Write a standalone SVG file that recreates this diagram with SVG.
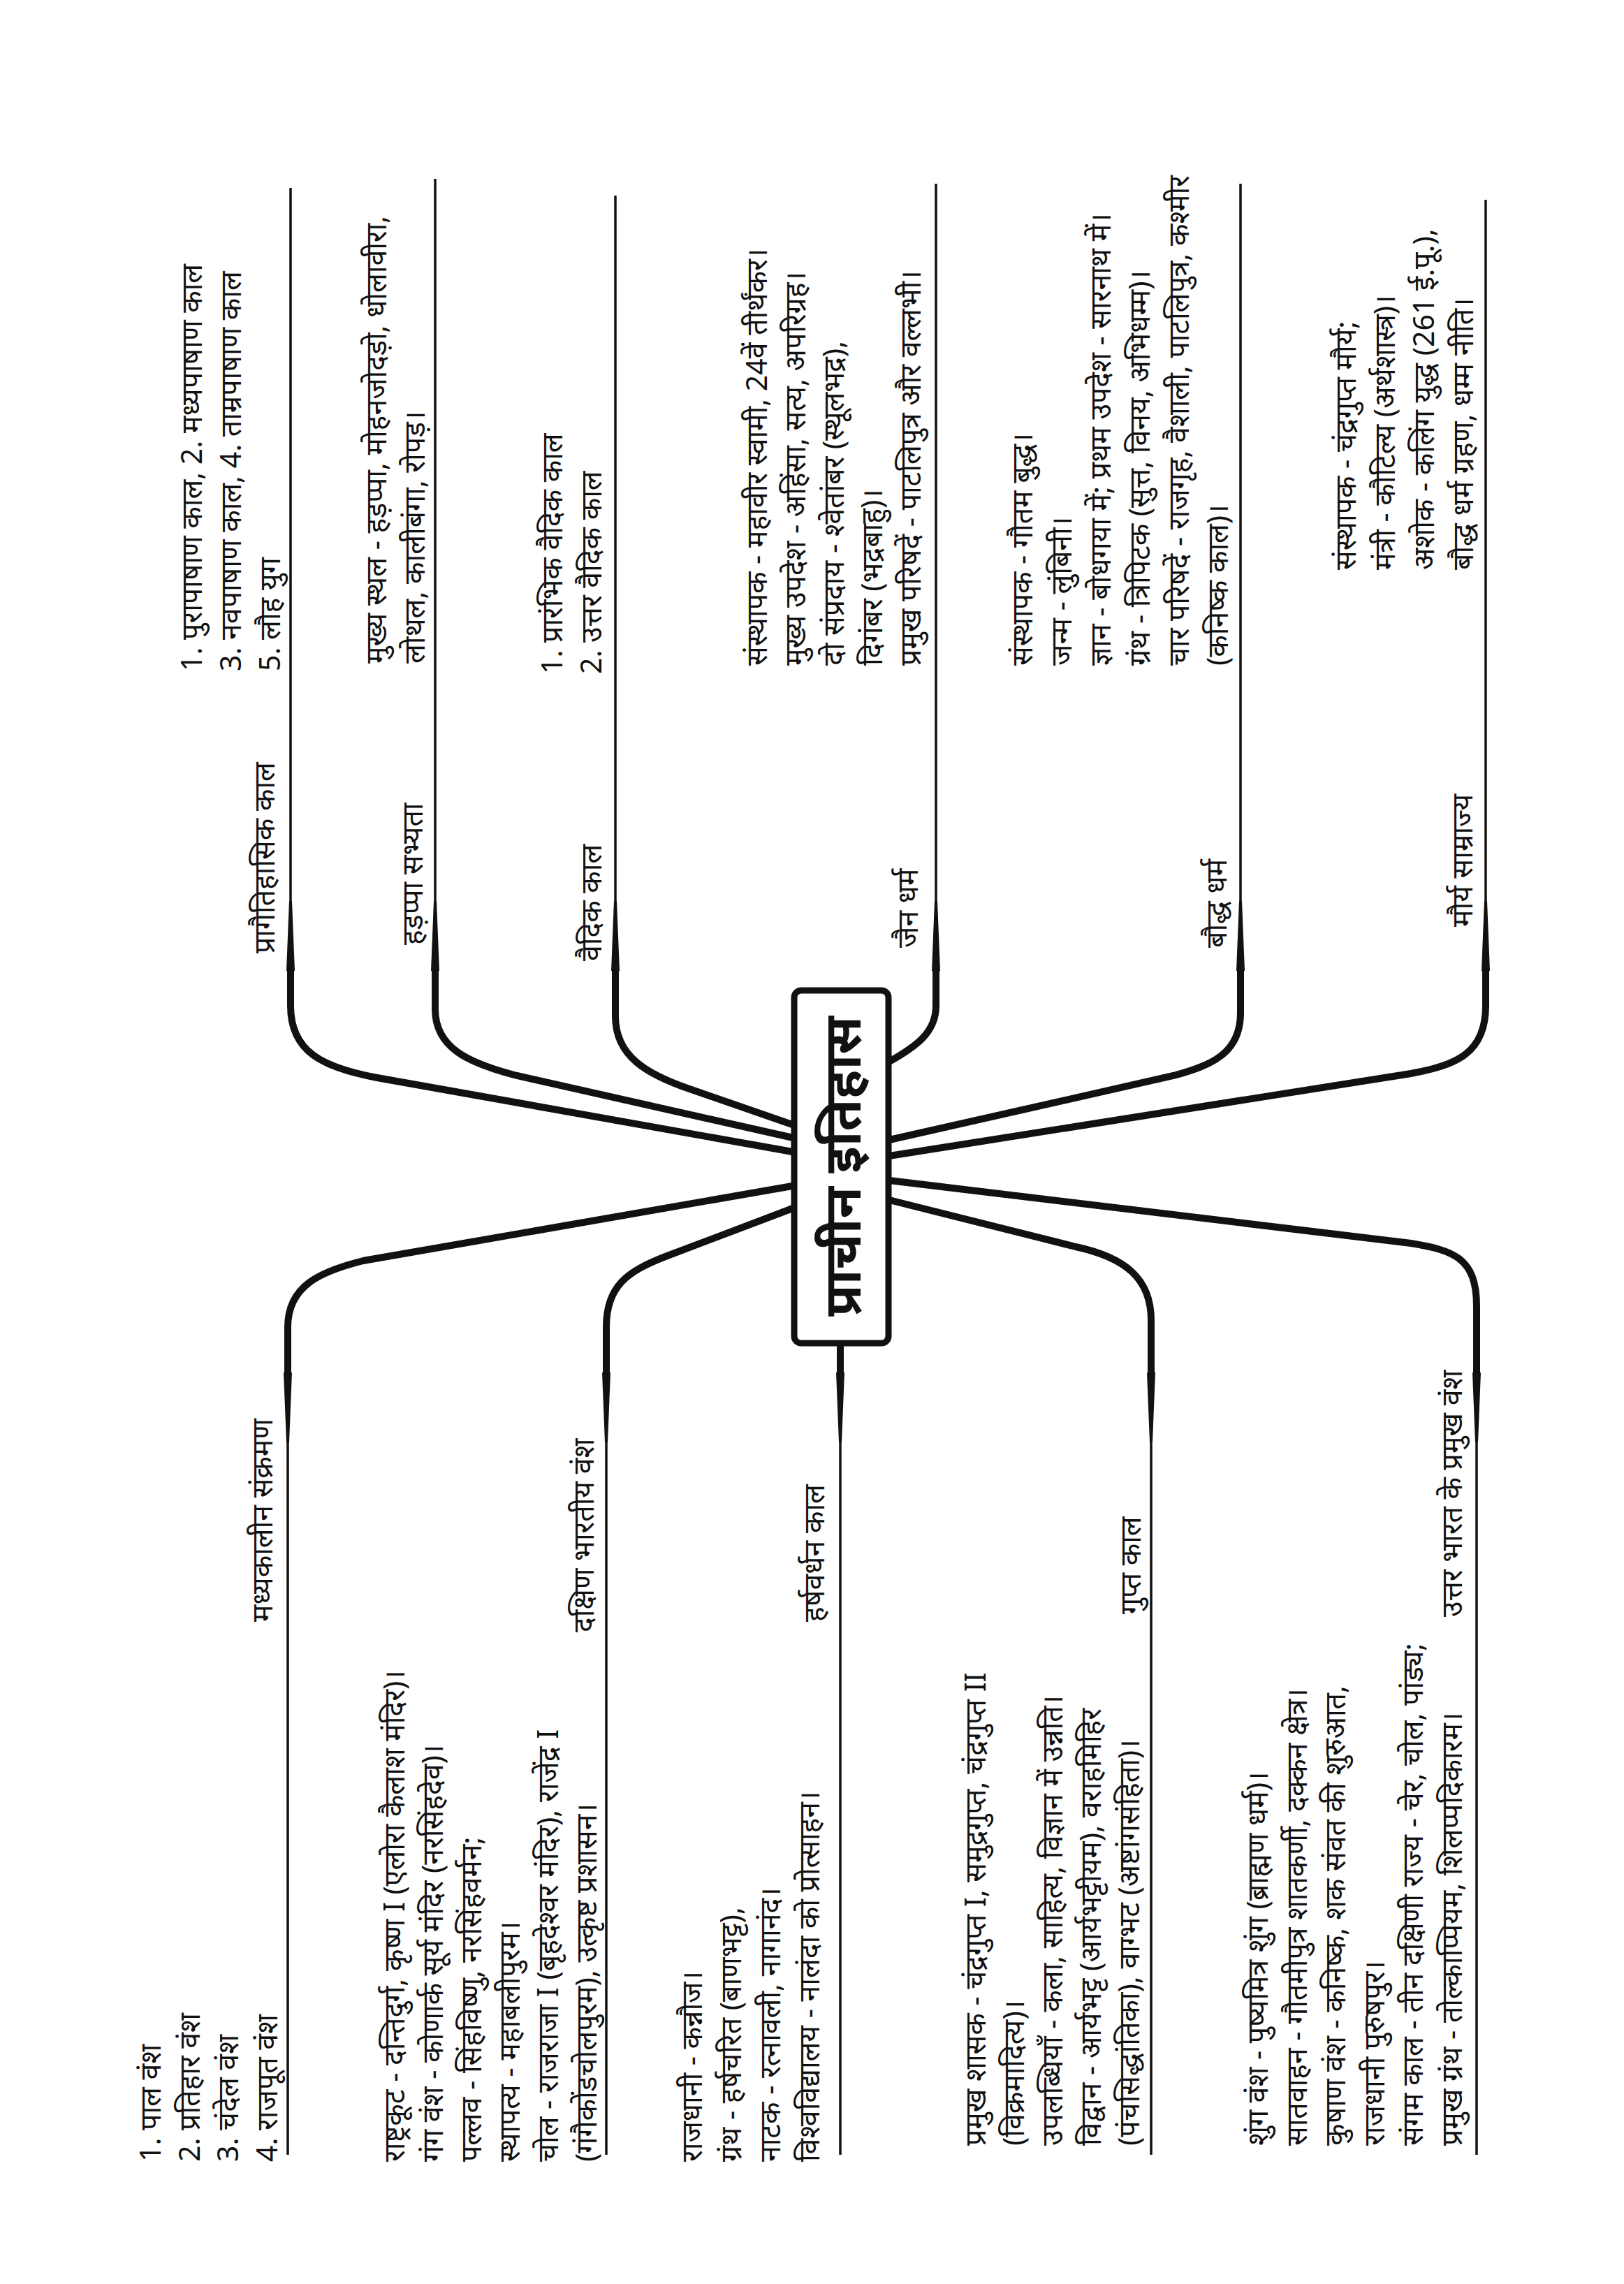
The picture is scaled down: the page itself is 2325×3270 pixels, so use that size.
<svg xmlns="http://www.w3.org/2000/svg" width="2325" height="3270" viewBox="0 0 2325 3270">
<style>
text{font-family:"Noto Sans","Noto Sans Devanagari","Lohit Devanagari",sans-serif;font-size:41px;fill:#111}
.c{font-size:74px;font-weight:bold}
.thin{fill:none;stroke:#111;stroke-width:3.5}
.thick{fill:none;stroke:#111;stroke-width:10;stroke-linecap:round}
.tp{fill:#111}
</style>
<rect width="2325" height="3270" fill="#fff"/>
<g id="connectors">
<path class="thin" d="M416,269V1380M623,256V1380M881,280V1380M1340,263V1380M1776,263V1380M2127,286V1380"/>
<path class="thin" d="M412,1975V3085M868,1975V3085M1203,1925V3085M1648,1975V3085M2114,1975V3085"/>
<path class="tp" d="M414,1290h4l4,100h-12zM621,1290h4l4,100h-12zM879,1290h4l4,100h-12zM1338,1290h4l4,100h-12zM1774,1290h4l4,100h-12zM2125,1290h4l4,100h-12z"/>
<path class="tp" d="M410,2065h4l4,-100h-12zM866,2065h4l4,-100h-12zM1201,2065h4l4,-100h-12zM1646,2065h4l4,-100h-12zM2112,2065h4l4,-100h-12z"/>
<path class="thick" d="M416,1385L416,1440C416,1505 460,1528 540,1543L1140,1650"/>
<path class="thick" d="M623,1385L623,1445C623,1500 670,1522 740,1540L1140,1630"/>
<path class="thick" d="M881,1385L881,1455C881,1512 925,1538 990,1560L1140,1612"/>
<path class="thick" d="M1340,1385L1340,1440C1340,1478 1312,1498 1273,1520"/>
<path class="thick" d="M1776,1385L1776,1450C1776,1508 1735,1525 1680,1540L1273,1632"/>
<path class="thick" d="M2127,1385L2127,1440C2127,1508 2085,1525 2020,1537L1273,1655"/>
<path class="thick" d="M412,1970L412,1900C412,1840 460,1820 520,1805L1140,1697"/>
<path class="thick" d="M868,1970L868,1900C868,1840 900,1820 950,1800L1140,1728"/>
<path class="thick" d="M1203,1925L1203,1970"/>
<path class="thick" d="M1648,1970L1648,1890C1648,1830 1610,1800 1540,1785L1273,1718"/>
<path class="thick" d="M2114,1970L2114,1870C2114,1800 2080,1790 2020,1780L1273,1690"/>
</g>
<g id="root">
<rect x="1137" y="1418" width="135" height="505" rx="10" fill="#fff" stroke="#111" stroke-width="9"/>
<text class="c" text-anchor="middle" transform="translate(1232,1670) rotate(-90)">प्राचीन इतिहास</text>
</g>
<g id="n-prag">
<text transform="translate(393,1365) rotate(-90)">प्रागैतिहासिक काल</text>
<text transform="translate(289,961) rotate(-90)"><tspan x="0">1. पुरापाषाण काल, 2. मध्यपाषाण काल</tspan><tspan x="0" dy="56">3. नवपाषाण काल, 4. ताम्रपाषाण काल</tspan><tspan x="0" dy="56">5. लौह युग</tspan></text>
</g>
<g id="n-harappa">
<text transform="translate(605,1353) rotate(-90)">हड़प्पा सभ्यता</text>
<text transform="translate(553,950) rotate(-90)"><tspan x="0">मुख्य स्थल - हड़प्पा, मोहनजोदड़ो, धोलावीरा,</tspan><tspan x="0" dy="55">लोथल, कालीबंगा, रोपड़।</tspan></text>
</g>
<g id="n-vedic">
<text transform="translate(861,1376) rotate(-90)">वैदिक काल</text>
<text transform="translate(805,965) rotate(-90)"><tspan x="0">1. प्रारंभिक वैदिक काल</tspan><tspan x="0" dy="56">2. उत्तर वैदिक काल</tspan></text>
</g>
<g id="n-jain">
<text transform="translate(1314,1357) rotate(-90)">जैन धर्म</text>
<text transform="translate(1098,953) rotate(-90)"><tspan x="0">संस्थापक - महावीर स्वामी, 24वें तीर्थंकर।</tspan><tspan x="0" dy="55">मुख्य उपदेश - अहिंसा, सत्य, अपरिग्रह।</tspan><tspan x="0" dy="55">दो संप्रदाय - श्वेतांबर (स्थूलभद्र),</tspan><tspan x="0" dy="55">दिगंबर (भद्रबाहु)।</tspan><tspan x="0" dy="55">प्रमुख परिषदें - पाटलिपुत्र और वल्लभी।</tspan></text>
</g>
<g id="n-bauddh">
<text transform="translate(1756,1357) rotate(-90)">बौद्ध धर्म</text>
<text transform="translate(1478,953) rotate(-90)"><tspan x="0">संस्थापक - गौतम बुद्ध।</tspan><tspan x="0" dy="56">जन्म - लुंबिनी।</tspan><tspan x="0" dy="56">ज्ञान - बोधगया में; प्रथम उपदेश - सारनाथ में।</tspan><tspan x="0" dy="56">ग्रंथ - त्रिपिटक (सुत्त, विनय, अभिधम्म)।</tspan><tspan x="0" dy="56">चार परिषदें - राजगृह, वैशाली, पाटलिपुत्र, कश्मीर</tspan><tspan x="0" dy="56">(कनिष्क काल)।</tspan></text>
</g>
<g id="n-maurya">
<text transform="translate(2108,1327) rotate(-90)">मौर्य साम्राज्य</text>
<text transform="translate(1941,816) rotate(-90)"><tspan x="0">संस्थापक - चंद्रगुप्त मौर्य;</tspan><tspan x="0" dy="56">मंत्री - कौटिल्य (अर्थशास्त्र)।</tspan><tspan x="0" dy="56">अशोक - कलिंग युद्ध (261 ई.पू.),</tspan><tspan x="0" dy="56">बौद्ध धर्म ग्रहण, धम्म नीति।</tspan></text>
</g>
<g id="n-madhya">
<text transform="translate(390,2322) rotate(-90)">मध्यकालीन संक्रमण</text>
<text transform="translate(230,3095) rotate(-90)"><tspan x="0">1. पाल वंश</tspan><tspan x="0" dy="55.5">2. प्रतिहार वंश</tspan><tspan x="0" dy="55.5">3. चंदेल वंश</tspan><tspan x="0" dy="55.5">4. राजपूत वंश</tspan></text>
</g>
<g id="n-dakshin">
<text transform="translate(850,2337) rotate(-90)">दक्षिण भारतीय वंश</text>
<text transform="translate(579,3095) rotate(-90)"><tspan x="0">राष्ट्रकूट - दन्तिदुर्ग, कृष्ण I (एलोरा कैलाश मंदिर)।</tspan><tspan x="0" dy="55">गंग वंश - कोणार्क सूर्य मंदिर (नरसिंहदेव)।</tspan><tspan x="0" dy="55">पल्लव - सिंहविष्णु, नरसिंहवर्मन;</tspan><tspan x="0" dy="55">स्थापत्य - महाबलीपुरम।</tspan><tspan x="0" dy="55">चोल - राजराजा I (बृहदेश्वर मंदिर), राजेंद्र I</tspan><tspan x="0" dy="55">(गंगैकोंडचोलपुरम), उत्कृष्ट प्रशासन।</tspan></text>
</g>
<g id="n-harsh">
<text transform="translate(1180,2322) rotate(-90)">हर्षवर्धन काल</text>
<text transform="translate(1005,3095) rotate(-90)"><tspan x="0">राजधानी - कन्नौज।</tspan><tspan x="0" dy="56">ग्रंथ - हर्षचरित (बाणभट्ट),</tspan><tspan x="0" dy="56">नाटक - रत्नावली, नागानंद।</tspan><tspan x="0" dy="56">विश्वविद्यालय - नालंदा को प्रोत्साहन।</tspan></text>
</g>
<g id="n-gupt">
<text transform="translate(1633,2311) rotate(-90)">गुप्त काल</text>
<text transform="translate(1411,3072) rotate(-90)"><tspan x="0">प्रमुख शासक - चंद्रगुप्त I, समुद्रगुप्त, चंद्रगुप्त II</tspan><tspan x="0" dy="55">(विक्रमादित्य)।</tspan><tspan x="0" dy="55">उपलब्धियाँ - कला, साहित्य, विज्ञान में उन्नति।</tspan><tspan x="0" dy="55">विद्वान - आर्यभट्ट (आर्यभट्टीयम), वराहमिहिर</tspan><tspan x="0" dy="55">(पंचसिद्धांतिका), वाग्भट (अष्टांगसंहिता)।</tspan></text>
</g>
<g id="n-uttar">
<text transform="translate(2093,2315) rotate(-90)">उत्तर भारत के प्रमुख वंश</text>
<text transform="translate(1815,3072) rotate(-90)"><tspan x="0">शुंग वंश - पुष्यमित्र शुंग (ब्राह्मण धर्म)।</tspan><tspan x="0" dy="55.6">सातवाहन - गौतमीपुत्र शातकर्णी, दक्कन क्षेत्र।</tspan><tspan x="0" dy="55.6">कुषाण वंश - कनिष्क, शक संवत की शुरुआत,</tspan><tspan x="0" dy="55.6">राजधानी पुरुषपुर।</tspan><tspan x="0" dy="55.6">संगम काल - तीन दक्षिणी राज्य - चेर, चोल, पांड्य;</tspan><tspan x="0" dy="55.6">प्रमुख ग्रंथ - तोल्काप्पियम, शिलप्पदिकारम।</tspan></text>
</g>
</svg>
